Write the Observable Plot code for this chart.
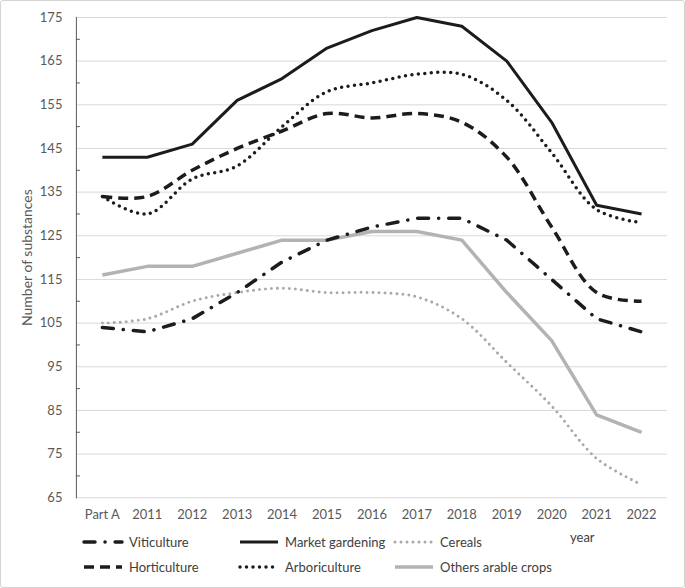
<!DOCTYPE html>
<html><head><meta charset="utf-8">
<script src="https://cdn.jsdelivr.net/npm/d3@7"></script>
<script src="https://cdn.jsdelivr.net/npm/@observablehq/plot@0.6"></script>
<style>
body{margin:0;background:#fff;}
#wrap{position:relative;width:685px;height:588px;box-sizing:border-box;border:1px solid #d4d4d4;border-radius:3px;font-family:Lato, "Open Sans", sans-serif;overflow:hidden;background:#fff;}
#chart{position:absolute;left:-1px;top:-1px;}
.leg{position:absolute;display:flex;align-items:center;font-size:13px;color:#404040;height:16px;white-space:nowrap;}
.leg svg{margin-right:5px;}
#year{position:absolute;font-size:13px;color:#404040;}
</style></head>
<body>
<div id="wrap"><div id="chart"></div><div id="legend"></div><span id="year">year</span></div>
<script>
const categories = ["Part A","2011","2012","2013","2014","2015","2016","2017","2018","2019","2020","2021","2022"];
const viticulture     = [104,103,106,112,119,124,127,129,129,124,115,106,103];
const marketGardening = [143,143,146,156,161,168,172,175,173,165,151,132,130];
const cereals         = [105,106,110,112,113,112,112,111,106,96,86,74,68];
const horticulture    = [134,134,140,145,149,153,152,153,151,143,127,112,110];
const arboriculture   = [134,130,138,141,150,158,160,162,162,156,144,131,128];
const othersArable    = [116,118,118,121,124,124,126,126,124,112,101,84,80];
const yMajorTicks = [65,75,85,95,105,115,125,135,145,155,165,175];
const yMinorTicks = [70,80,90,100,110,120,130,140,150,160,170];
const seriesNames = ["Viticulture","Market gardening","Cereals","Horticulture","Arboriculture","Others arable crops"];
const seriesValues = [viticulture, marketGardening, cereals, horticulture, arboriculture, othersArable];

const styles = {
  "Viticulture": {stroke:"#1c1c1c", strokeWidth:3.5, strokeDasharray:"11,10,0.1,10", strokeLinecap:"round", curve:"linear"},
  "Market gardening": {stroke:"#1c1c1c", strokeWidth:3, strokeDasharray:null, strokeLinecap:"butt", curve:"linear"},
  "Cereals": {stroke:"#a9a9a9", strokeWidth:3, strokeDasharray:"0,6", strokeLinecap:"round", curve:"catmull-rom"},
  "Horticulture": {stroke:"#1c1c1c", strokeWidth:3.5, strokeDasharray:"10,6", strokeLinecap:"butt", curve:"catmull-rom"},
  "Arboriculture": {stroke:"#1c1c1c", strokeWidth:3.5, strokeDasharray:"0,6.5", strokeLinecap:"round", curve:"catmull-rom"},
  "Others arable crops": {stroke:"#b3b3b3", strokeWidth:3.5, strokeDasharray:null, strokeLinecap:"butt", curve:"linear"}
};
const drawOrder = ["Others arable crops","Cereals","Viticulture","Horticulture","Arboriculture","Market gardening"];

const rows = seriesNames.flatMap((name, k) => seriesValues[k].map((v, i) => ({cat: categories[i], value: v, name})));

const lineMarks = drawOrder.map(name => {
  const s = styles[name];
  const o = {x:"cat", y:"value", filter: d => d.name === name, stroke: s.stroke, strokeWidth: s.strokeWidth, strokeLinecap: s.strokeLinecap, strokeLinejoin:"round", curve: s.curve};
  if (s.strokeDasharray) o.strokeDasharray = s.strokeDasharray;
  return Plot.line(rows, o);
});

const chart = Plot.plot({
  width: 685, height: 525,
  marginLeft: 76, marginRight: 17, marginTop: 17, marginBottom: 27,
  style: {fontFamily: "Lato, 'Open Sans', sans-serif", fontSize: "13px", color: "#595959", background: "transparent", overflow: "visible"},
  x: {type: "point", domain: categories, padding: 0.5},
  y: {domain: [65, 175]},
  marks: [
    Plot.gridY(yMajorTicks, {stroke: "#d9d9d9", strokeOpacity: 1, strokeWidth: 1}),
    Plot.frame({anchor: "left", stroke: "#595959"}),
    Plot.axisY(yMinorTicks, {tickSize: 4, dx: 4, text: null, stroke: "#595959", label: null}),
    Plot.axisY(yMajorTicks, {tickSize: 0, tickPadding: 14, label: null}),
    Plot.axisY({ticks: [], tickSize: 0, label: "Number of substances", labelAnchor: "center", labelOffset: 54, labelArrow: false, fontSize: 14}),
    Plot.axisX({tickSize: 0, tickPadding: 12, label: null}),
    ...lineMarks
  ]
});
document.getElementById("chart").appendChild(chart);

// legend
const legendCols = [82, 238, 393];
const legendRows = [542, 567];
const legend = document.getElementById("legend");
seriesNames.forEach((name, k) => {
  const s = styles[name];
  const item = document.createElement("div");
  item.className = "leg";
  item.style.left = (legendCols[k % 3] - 1) + "px";
  item.style.top = (legendRows[Math.floor(k / 3)] - 9) + "px";
  const ns = "http://www.w3.org/2000/svg";
  const svg = document.createElementNS(ns, "svg");
  svg.setAttribute("width", 42); svg.setAttribute("height", 10);
  const ln = document.createElementNS(ns, "line");
  ln.setAttribute("x1", 2); ln.setAttribute("x2", 40); ln.setAttribute("y1", 5); ln.setAttribute("y2", 5);
  ln.setAttribute("stroke", s.stroke); ln.setAttribute("stroke-width", s.strokeWidth);
  ln.setAttribute("stroke-linecap", s.strokeLinecap);
  if (s.strokeDasharray) ln.setAttribute("stroke-dasharray", s.strokeDasharray);
  svg.appendChild(ln);
  item.appendChild(svg);
  const t = document.createElement("span");
  t.textContent = name;
  item.appendChild(t);
  legend.appendChild(item);
});
const yr = document.getElementById("year");
yr.style.left = "569px"; yr.style.top = "528px";
</script>
</body></html>
